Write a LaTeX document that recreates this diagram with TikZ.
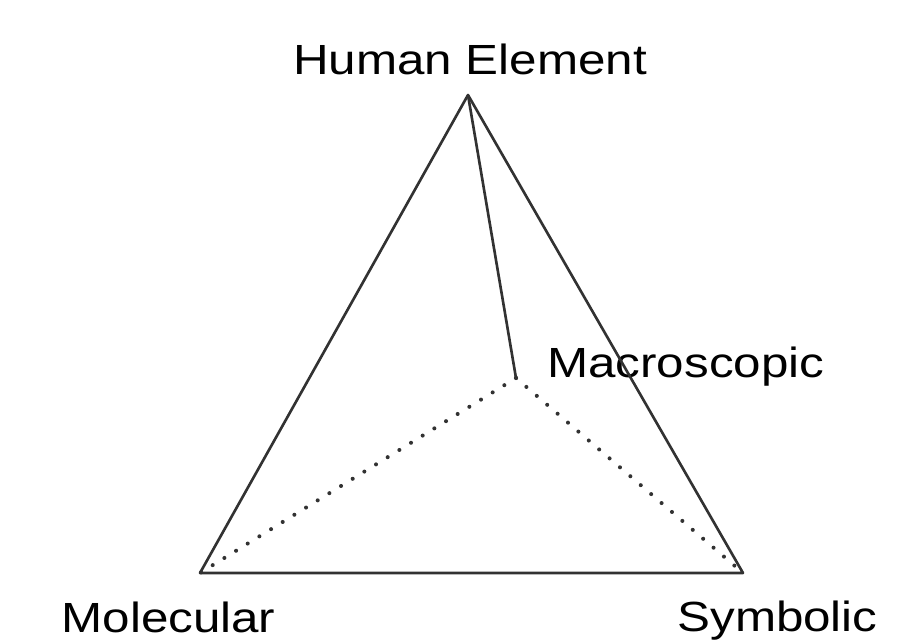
\documentclass[tikz,border=0pt]{standalone}
\usepackage{fontspec}
\usepackage{xcolor}
\newfontfamily\lblfont[FakeStretch=1.17]{Liberation Sans}
\definecolor{EdgeGray}{RGB}{50,50,50}
\usetikzlibrary{positioning}

\begin{document}
\begin{tikzpicture}[
    lbl/.style={inner sep=0pt, font=\lblfont\fontsize{24}{28}\selectfont},
    edge/.style={draw=EdgeGray, line width=1.5pt, line join=round},
    hidden/.style={draw=EdgeGray, line width=2.3pt, line cap=round, dash pattern=on 0pt off 7.8pt}
]
\useasboundingbox (0,0) rectangle (18.46,12.84);

%% ---- VERTICES ----
\coordinate (top)   at (9.36, 10.94);
\coordinate (left)  at (4.00, 1.38);
\coordinate (right) at (14.86, 1.38);
\coordinate (back)  at (10.32, 5.28);

%% ---- LABELS ----
\node[lbl, anchor=base]      (human) at (9.40, 11.34) {Human Element};
\node[lbl, anchor=base west] (macro) at (10.94, 5.28) {Macroscopic};
\node[lbl, anchor=base]      (mol)   at (3.37, 0.18)  {Molecular};
\node[lbl, anchor=base]      (sym)   at (15.55, 0.20) {Symbolic};

%% ---- EDGES ----
\draw[edge] (left) -- (top) -- (right) -- cycle;
\draw[edge] (top) -- (back);
\draw[hidden] (back) -- (left);
\draw[hidden] (back) -- (right);

\end{tikzpicture}
\end{document}
